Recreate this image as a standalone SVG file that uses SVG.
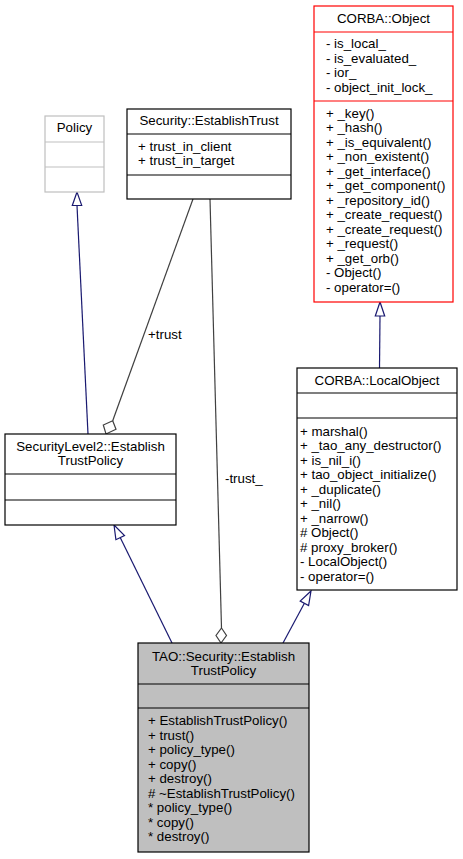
<svg xmlns="http://www.w3.org/2000/svg" width="463" height="859" viewBox="0 0 463 859">
<style>
text{font-family:"Liberation Sans",Arial,sans-serif;font-size:13.3px;fill:#000}
.c{text-anchor:middle}
.box{fill:#fff;stroke:#000;stroke-width:1.2}
.sep{stroke:#000;stroke-width:1.2}
.inh{fill:none;stroke:#191970;stroke-width:1.2}
.tri{fill:#fff;stroke:#191970;stroke-width:1.2}
.agg{fill:none;stroke:#404040;stroke-width:1.2}
.dia{fill:#fff;stroke:#404040;stroke-width:1.2}
</style>
<rect width="463" height="859" fill="#fff"/>
<g id="connectors">
<path class="inh" d="M77,205.5 L88,434"/>
<polygon class="tri" points="77,192 72.3,205.5 81.7,205.3"/>
<path class="inh" d="M380,316 L379.5,368"/>
<polygon class="tri" points="380,302 375.3,316 384.7,316"/>
<path class="inh" d="M172,643 L120.2,537.6"/>
<polygon class="tri" points="114,525 124.5,535.5 115.9,539.7"/>
<path class="inh" d="M283,643 L304.4,603.3"/>
<polygon class="tri" points="311,591 308.6,605.6 300.2,601"/>
<path class="agg" d="M193,199 L112.7,420.7"/>
<polygon class="dia" points="112.7,420.7 116,429.3 106,434 103.3,425"/>
<path class="agg" d="M210,199 L221.5,628"/>
<polygon class="dia" points="221.5,628 226.5,635.5 221,643 216,635.5"/>
<text x="148" y="339">+trust</text>
<text x="225" y="483">-trust_</text>
</g>
<g id="Policy">
<rect x="45" y="116" width="59" height="76" fill="#fff" stroke="#bfbfbf" stroke-width="1.2"/>
<path d="M45,142 H104 M45,167 H104" stroke="#bfbfbf" stroke-width="1.2"/>
<text class="c" x="74.5" y="132">Policy</text>
</g>
<g id="EstablishTrust">
<rect class="box" x="127" y="109" width="164" height="90"/>
<path class="sep" d="M127,134 H291 M127,175 H291"/>
<text class="c" x="209" y="124.5">Security::EstablishTrust</text>
<text x="138" y="150.5">+ trust_in_client</text>
<text x="138" y="165">+ trust_in_target</text>
</g>
<g id="CORBAObject">
<rect x="314" y="6" width="139" height="296" fill="#fff" stroke="#ff0000" stroke-width="1.2"/>
<path d="M314,32 H453 M314,101 H453" stroke="#ff0000" stroke-width="1.2"/>
<text class="c" x="383.5" y="23">CORBA::Object</text>
<text x="326" y="48">- is_local_</text>
<text x="326" y="62.5">- is_evaluated_</text>
<text x="326" y="77">- ior_</text>
<text x="326" y="91.5">- object_init_lock_</text>
<text x="326" y="117.5">+ _key()</text>
<text x="326" y="132">+ _hash()</text>
<text x="326" y="146.5">+ _is_equivalent()</text>
<text x="326" y="161">+ _non_existent()</text>
<text x="326" y="175.5">+ _get_interface()</text>
<text x="326" y="190">+ _get_component()</text>
<text x="326" y="204.5">+ _repository_id()</text>
<text x="326" y="219">+ _create_request()</text>
<text x="326" y="233.5">+ _create_request()</text>
<text x="326" y="248">+ _request()</text>
<text x="326" y="262.5">+ _get_orb()</text>
<text x="326" y="277">- Object()</text>
<text x="326" y="291.5">- operator=()</text>
</g>
<g id="LocalObject">
<rect class="box" x="297" y="368" width="160" height="222"/>
<path class="sep" d="M297,393 H457 M297,418 H457"/>
<text class="c" x="377" y="385">CORBA::LocalObject</text>
<text x="300" y="435.5">+ marshal()</text>
<text x="300" y="450">+ _tao_any_destructor()</text>
<text x="300" y="464.5">+ is_nil_i()</text>
<text x="300" y="479">+ tao_object_initialize()</text>
<text x="300" y="493.5">+ _duplicate()</text>
<text x="300" y="508">+ _nil()</text>
<text x="300" y="522.5">+ _narrow()</text>
<text x="300" y="537"># Object()</text>
<text x="300" y="551.5"># proxy_broker()</text>
<text x="300" y="566">- LocalObject()</text>
<text x="300" y="580.5">- operator=()</text>
</g>
<g id="SL2EstablishTrustPolicy">
<rect class="box" x="5" y="434" width="171" height="91"/>
<path class="sep" d="M5,474 H176 M5,500 H176"/>
<text class="c" x="90.5" y="451">SecurityLevel2::Establish</text>
<text class="c" x="90.5" y="465">TrustPolicy</text>
</g>
<g id="TAOEstablishTrustPolicy">
<rect x="138" y="643" width="171" height="209" fill="#bfbfbf" stroke="#000" stroke-width="1.2"/>
<path class="sep" d="M138,684 H309 M138,708 H309"/>
<text class="c" x="223.5" y="661">TAO::Security::Establish</text>
<text class="c" x="223.5" y="675">TrustPolicy</text>
<text x="148" y="725">+ EstablishTrustPolicy()</text>
<text x="148" y="739.5">+ trust()</text>
<text x="148" y="754">+ policy_type()</text>
<text x="148" y="768.5">+ copy()</text>
<text x="148" y="783">+ destroy()</text>
<text x="148" y="797.5"># ~EstablishTrustPolicy()</text>
<text x="148" y="812">* policy_type()</text>
<text x="148" y="826.5">* copy()</text>
<text x="148" y="841">* destroy()</text>
</g>
</svg>
